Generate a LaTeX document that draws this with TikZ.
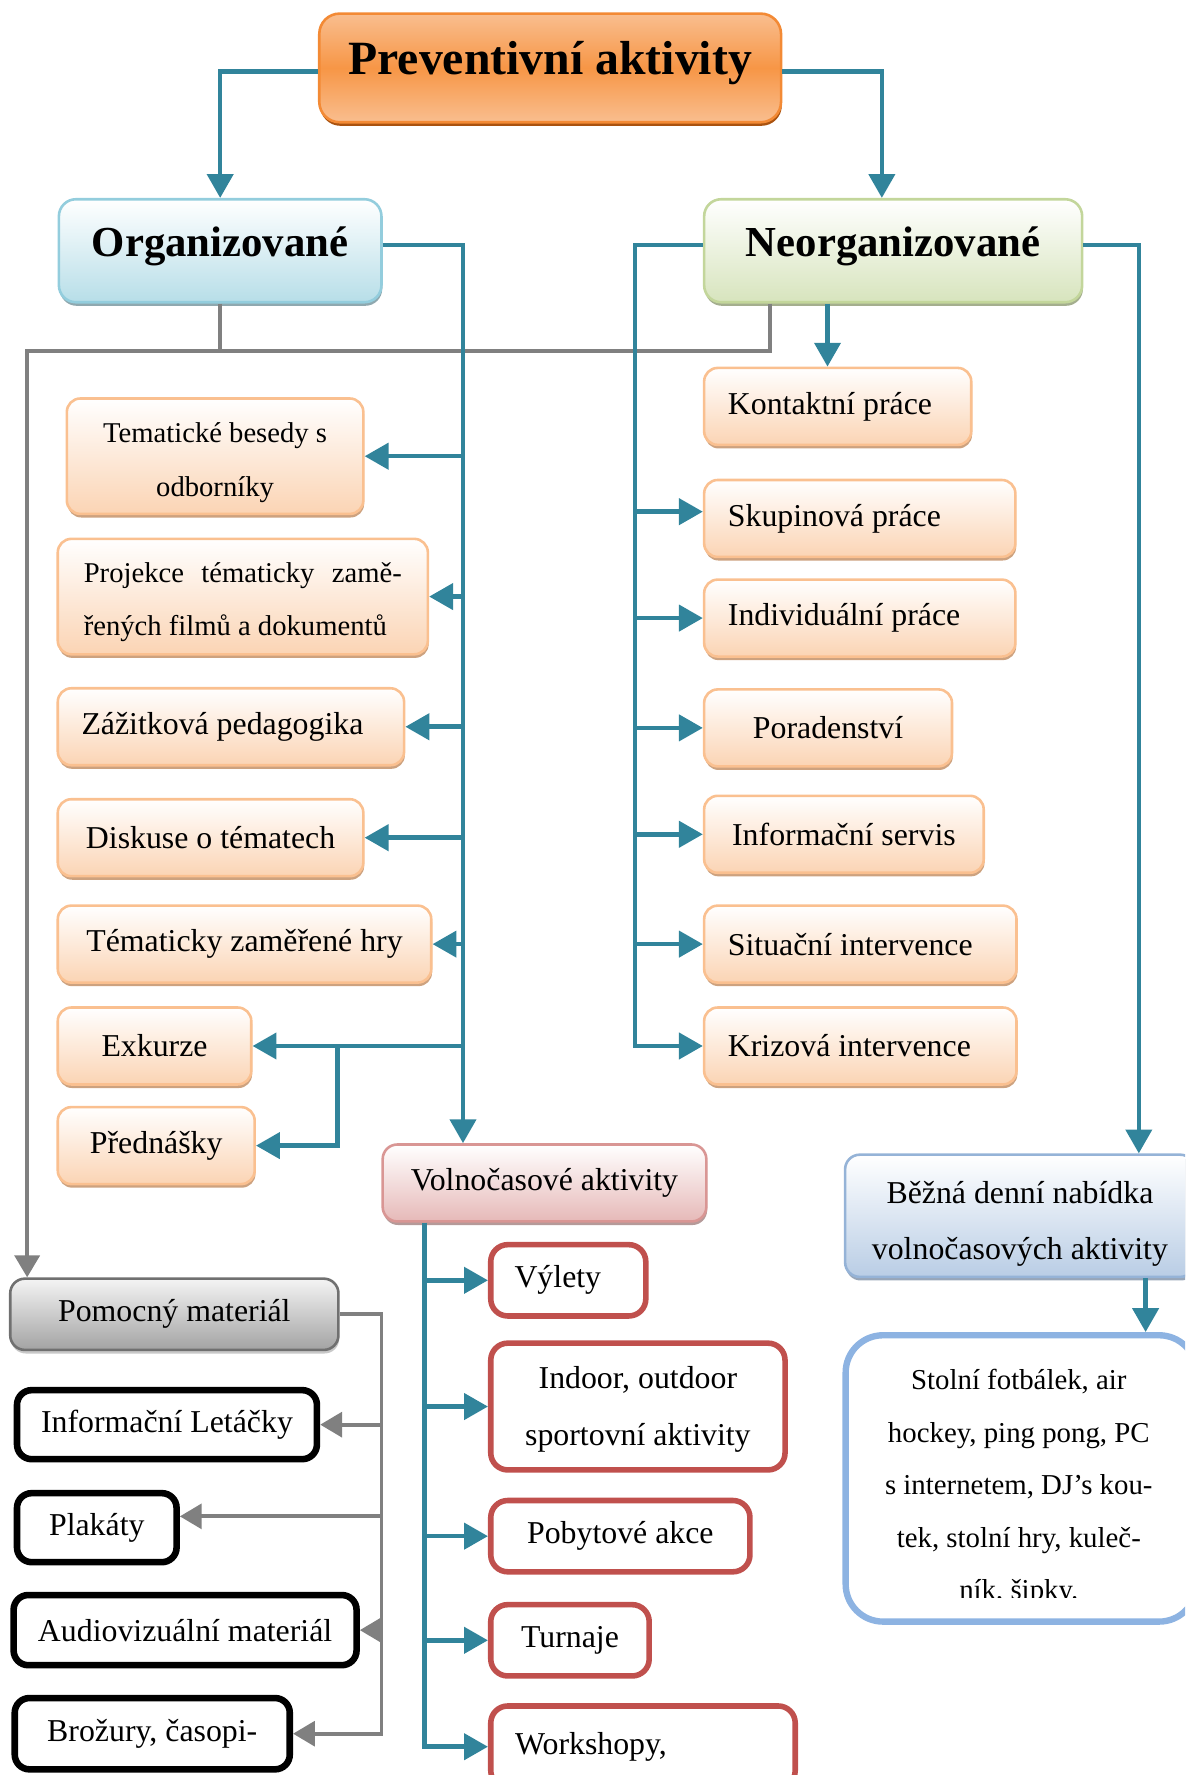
\documentclass[tikz,border=0pt]{standalone}
\usepackage{fontspec}
\setmainfont{Liberation Serif}
\usepackage{tikz}
\usetikzlibrary{arrows.meta,shadows}

\definecolor{lineteal}{HTML}{31849B}
\definecolor{linegray}{HTML}{808080}
\definecolor{itemline}{HTML}{FAC090}
\definecolor{itemfill}{HTML}{FBD4B4}
\definecolor{itemshade}{HTML}{CDA27F}
\definecolor{topline}{HTML}{F38A35}
\definecolor{toplight}{HTML}{F9BE8F}
\definecolor{topmid}{HTML}{F79646}
\definecolor{topshade}{HTML}{A9520F}
\definecolor{orgline}{HTML}{93CDDD}
\definecolor{orgfill}{HTML}{B7DEE8}
\definecolor{orgshade}{HTML}{8FA8AF}
\definecolor{neorgline}{HTML}{C3D69B}
\definecolor{neorgfill}{HTML}{D7E4BD}
\definecolor{neorgshade}{HTML}{A4AE8E}
\definecolor{volline}{HTML}{D99694}
\definecolor{volfill}{HTML}{E6B9B8}
\definecolor{volshade}{HTML}{B59A99}
\definecolor{bezline}{HTML}{95B3D7}
\definecolor{bezfill}{HTML}{B9CDE5}
\definecolor{bezshade}{HTML}{98A6B8}
\definecolor{pomline}{HTML}{707070}
\definecolor{pomtop}{HTML}{F4F4F4}
\definecolor{pombot}{HTML}{A3A3A3}
\definecolor{pomshade}{HTML}{C8C8C8}
\definecolor{redline}{HTML}{C0504D}
\definecolor{stolline}{HTML}{8DB3E2}

\begin{document}
\begin{tikzpicture}[x=0.02cm,y=-0.02cm,
  tealarr/.style={draw=lineteal,line width=2.3pt,-{Triangle[length=12pt,width=13pt]}},
  grayarr/.style={draw=linegray,line width=1.9pt,-{Triangle[length=11pt,width=12.5pt]}},
  grayln/.style={draw=linegray,line width=1.9pt},
  txt/.style={font=\fontsize{16}{27}\selectfont},
  smalltxt/.style={font=\fontsize{14.4}{26.7}\selectfont},
  boxshadow/.style={drop shadow={shadow xshift=0.4pt,shadow yshift=-1.8pt,fill=#1,opacity=1}},
  headbox/.style={font=\fontsize{21.5}{26}\selectfont\bfseries,line width=1.3pt,rounded corners=0.3cm,top color=white,inner sep=0pt,minimum height=1.82cm,text depth=9.3pt},
  itembox/.style={txt,draw=itemline,line width=1.3pt,rounded corners=0.24cm,top color=white,bottom color=itemfill,boxshadow=itemshade,inner sep=0pt,minimum height=1.36cm},
  itemleft/.style={itembox,align=flush left,inner xsep=0.42cm,text width=#1},
  gradbox/.style={txt,line width=1.3pt,rounded corners=0.26cm,top color=white,inner sep=0pt,minimum height=1.36cm},
  redbox/.style={txt,draw=redline,line width=2.8pt,rounded corners=0.3cm,fill=white,inner sep=0pt,minimum height=1.26cm},
  blackbox/.style={txt,draw=black,line width=3.3pt,rounded corners=0.26cm,fill=white,inner sep=0pt,minimum height=1.22cm}
]
\useasboundingbox (0,0) rectangle (1047,1568);
\clip (0,0) rectangle (1047,1568);

% headings
\node[headbox,draw=topline,top color=toplight,bottom color=toplight,middle color=topmid,font=\fontsize{24}{28}\selectfont\bfseries,text depth=10pt,rounded corners=0.36cm,boxshadow=topshade,minimum width=8.16cm,minimum height=1.92cm] (pa_top) at (486,60) {Preventivní aktivity};
\node[headbox,draw=orgline,bottom color=orgfill,boxshadow=orgshade,minimum width=5.7cm] (pa_org) at (194.5,221.5) {Organizované};
\node[headbox,draw=neorgline,bottom color=neorgfill,boxshadow=neorgshade,minimum width=6.68cm] (pa_neorg) at (789,221.5) {Neorganizované};

% organizovane
\node[itembox,smalltxt,minimum width=5.24cm,minimum height=2.04cm,align=center] (pa_tema) at (190,403) {\rule{0pt}{16.5pt}Tematické besedy s\\odborníky};
\node[itemleft=5.62cm,smalltxt,inner xsep=0.44cm,minimum width=6.54cm,minimum height=2.04cm] (pa_proj) at (214.5,527) {\rule{0pt}{16pt}Projekce\hfill tématicky\hfill zamě-\\řených filmů a dokumentů};
\node[itemleft=5.28cm,minimum width=6.12cm] (pa_zazit) at (204,642) {Zážitková pedagogika};
\node[itembox,minimum width=5.4cm] (pa_disk) at (186,740) {Diskuse o tématech};
\node[itembox,minimum width=6.6cm] (pa_temhry) at (216,834) {Tématicky zaměřené hry};
\node[itembox,minimum width=3.42cm] (pa_exk) at (136.5,924) {Exkurze};
\node[itembox,minimum width=3.48cm] (pa_pred) at (138,1012) {Přednášky};

% neorganizovane
\node[itemleft=3.88cm,minimum width=4.72cm] (pa_kont) at (740,359) {Kontaktní práce};
\node[itemleft=4.66cm,minimum width=5.5cm] (pa_skup) at (759.5,458) {Skupinová práce};
\node[itemleft=4.66cm,minimum width=5.5cm] (pa_indiv) at (759.5,546) {Individuální práce};
\node[itembox,minimum width=4.38cm] (pa_porad) at (731.5,643) {Poradenství};
\node[itembox,minimum width=4.94cm] (pa_info) at (745.5,737) {Informační servis};
\node[itemleft=4.68cm,minimum width=5.52cm] (pa_situ) at (760,834) {Situační intervence};
\node[itemleft=4.68cm,minimum width=5.52cm] (pa_kriz) at (760,924) {Krizová intervence};

% volnocasove aktivity
\node[gradbox,draw=volline,bottom color=volfill,boxshadow=volshade,minimum width=5.72cm] (pa_volno) at (481,1045) {Volnočasové aktivity};
\node[redbox,minimum width=2.74cm,align=flush left,inner xsep=0.42cm,text width=1.9cm] (pa_vyl) at (502,1131) {Výlety};
\node[redbox,minimum width=5.2cm,minimum height=2.24cm,align=center,font=\fontsize{16}{28.4}\selectfont] (pa_indoor) at (563.5,1242.5) {\rule{0pt}{14pt}Indoor, outdoor\\sportovní aktivity};
\node[redbox,minimum width=4.58cm] (pa_pobyt) at (548,1357) {Pobytové akce};
\node[redbox,minimum width=2.8cm] (pa_turn) at (503.5,1449) {Turnaje};
\node[redbox,minimum width=5.38cm,minimum height=1.44cm,align=flush left,inner xsep=0.43cm,text width=4.52cm] (pa_work) at (568,1543) {Workshopy,};

% pomocny material
\node[gradbox,draw=pomline,top color=pomtop,bottom color=pombot,boxshadow=pomshade,minimum width=5.8cm,minimum height=1.26cm] (pa_pom) at (154,1161) {Pomocný materiál};
\node[blackbox,minimum width=5.3cm] (pa_letak) at (147.5,1258.5) {Informační Letáčky};
\node[blackbox,minimum width=2.82cm] (pa_plak) at (85.5,1349.5) {Plakáty};
\node[blackbox,minimum width=6.06cm,minimum height=1.24cm] (pa_audio) at (163.5,1440) {Audiovizuální materiál};
\node[blackbox,minimum width=4.86cm,minimum height=1.26cm] (pa_broz) at (134.5,1531.5) {Brožury, časopi-};

% bezna denni nabidka
\node[gradbox,draw=bezline,bottom color=bezfill,boxshadow=bezshade,minimum width=6.18cm,minimum height=2.16cm,align=center,font=\fontsize{16}{28.4}\selectfont] (pa_bezna) at (901,1074) {\rule{0pt}{19pt}Běžná denní nabídka\\volnočasových aktivity};
\node[draw=stolline,line width=3.2pt,rounded corners=0.66cm,fill=white,minimum width=6.2cm,minimum height=5.06cm] (pa_stol) at (902,1306) {};
\begin{scope}
\clip (746,1180) rectangle (1056,1411);
\node[font=\fontsize{14.5}{26.4}\selectfont,align=center] (pa_stoltxt) at (900,1314) {Stolní fotbálek, air\\hockey, ping pong, PC\\s internetem, DJ’s kou-\\tek, stolní hry, kuleč-\\ník, šipky.};
\end{scope}

% gray connectors
\coordinate (g_left) at (24,310);
\coordinate (g_right) at (680,310);
\coordinate (m_bus) at (337,0);
\draw[grayln] (pa_org.south) -- (pa_org.south |- g_left);
\draw[grayarr] (g_right |- pa_neorg.south) -- (g_right) -- (g_left) -- (g_left |- pa_pom.north);
\draw[grayarr] (pa_pom.east) -| (m_bus |- pa_broz.east) -- (pa_broz.east);
\foreach \n in {pa_letak,pa_audio} \draw[grayarr] (m_bus |- \n.east) -- (\n.east);
\draw[grayarr] ([yshift=0.2cm]m_bus |- pa_plak.east) -- ([yshift=0.2cm]pa_plak.east);

% teal connectors
\draw[tealarr] ([yshift=-0.06cm]pa_top.west) -| (pa_org.north);
\draw[tealarr] ([yshift=-0.06cm]pa_top.east) -| ([xshift=-0.2cm]pa_neorg.north);

\coordinate (o_bus) at (409,0);
\coordinate (e_bus) at (298,0);
\draw[tealarr] ([yshift=0.1cm]pa_org.east) -| (o_bus |- pa_volno.north);
\foreach \n in {pa_tema,pa_proj,pa_zazit,pa_disk,pa_temhry,pa_exk} \draw[tealarr] (o_bus |- \n.east) -- (\n.east);
\draw[tealarr] (e_bus |- pa_exk.east) |- (pa_pred.east);

\coordinate (n_bus) at (561,0);
\draw[tealarr] ([yshift=0.1cm]pa_neorg.west) -| (n_bus |- pa_kriz.west) -- (pa_kriz.west);
\foreach \n in {pa_indiv,pa_porad,pa_info,pa_situ} \draw[tealarr] (n_bus |- \n.west) -- (\n.west);
\draw[tealarr] ([yshift=0.12cm]n_bus |- pa_skup.west) -- ([yshift=0.12cm]pa_skup.west);
\draw[tealarr] ([xshift=-0.18cm]pa_kont.north |- pa_neorg.south) -- ([xshift=-0.18cm]pa_kont.north);

\coordinate (r_bus) at (1006,0);
\draw[tealarr] ([yshift=0.1cm]pa_neorg.east) -| (r_bus |- pa_bezna.north);
\draw[tealarr] ([xshift=0.12cm]r_bus |- pa_bezna.south) -- ([xshift=0.12cm]r_bus |- pa_stol.north);

\coordinate (v_bus) at (375,0);
\draw[tealarr] (v_bus |- pa_volno.south) |- (pa_work.west);
\foreach \n in {pa_vyl,pa_indoor,pa_pobyt,pa_turn} \draw[tealarr] (v_bus |- \n.west) -- (\n.west);
\end{tikzpicture}
\end{document}
